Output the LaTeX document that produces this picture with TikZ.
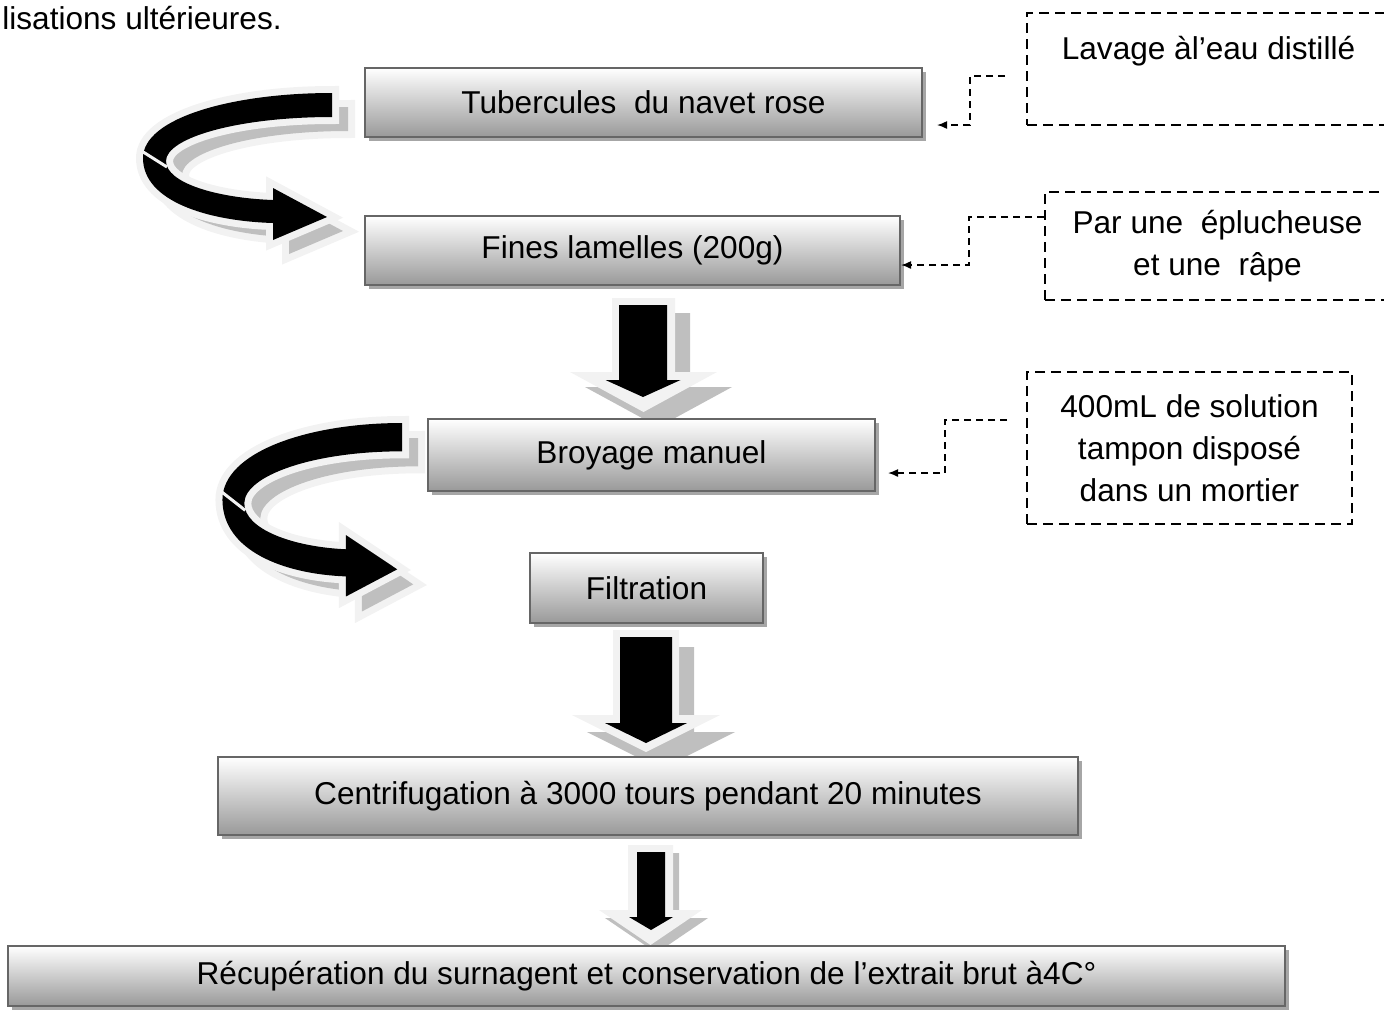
\documentclass[tikz,border=0pt]{standalone}
\usepackage{fontspec}
\setmainfont{Liberation Sans}
\usetikzlibrary{arrows.meta}
\usetikzlibrary{shadows}

% fleche droite : style, x, demi-largeur, haut, base tete, demi-tete, pointe
\newcommand\grosfleche[7]{%
  \fill[#1] (#2-#3,#4) -- (#2+#3,#4) -- (#2+#3,#5) -- (#2+#6,#5) -- (#2,#7)
    -- (#2-#6,#5) -- (#2-#3,#5) -- cycle;}

% fleche courbe : options du scope, couleur
\newcommand\virage[2]{%
  \begin{scope}[#1]
    \fill[#2, preaction={draw=black!5, line width=7pt}]
      (0,0) .. controls (-100,0) and (-189,25) .. (-189,65)
      .. controls (-189,108) and (-125,128) .. (-59,130)
      -- (-59,147) -- (-5,124) -- (-59,95) -- (-59,107)
      .. controls (-115,105) and (-166,90) .. (-166,68)
      .. controls (-166,45) and (-95,24) .. (0,24) -- cycle;
    \draw[black!5, line width=1.5pt] (-192,57) -- (-165,74);
  \end{scope}}

\begin{document}
\begin{tikzpicture}[x=0.5pt, y=-0.5pt,
    etape/.style={draw=black!60, line width=1pt, top color=white, bottom color=black!40,
      drop shadow={shadow xshift=2pt, shadow yshift=-2pt, fill=black!35, opacity=1},
      font=\fontsize{15.8}{21}\selectfont, inner sep=0pt},
    note/.style={draw, line width=1pt, dash pattern=on 5pt off 3pt, align=center,
      font=\fontsize{15.8}{21}\selectfont, inner sep=0pt},
    lien/.style={line width=0.75pt, dash pattern=on 3.5pt off 2.5pt,
      -{Latex[length=5pt,width=4pt]}}]
  \useasboundingbox (0,0) rectangle (1384,1009);
  \clip (0,0) rectangle (1384,1009);

  \node[anchor=base west, inner sep=0pt, font=\fontsize{15.8}{21}\selectfont]
    (suite) at (2,29) {lisations ultérieures.};

  % fleches courbes
  \virage{shift={(348,107)}}{black!25}
  \virage{shift={(332,93)}}{black}
  \virage{shift={(418,438)}, xscale=0.95, yscale=1.18}{black!25}
  \virage{shift={(402,423)}, xscale=0.95, yscale=1.18}{black}

  % fleches droites
  \grosfleche{black!25, shift={(15,15)}}{643.5}{31.5}{298}{372}{73.5}{412}
  \grosfleche{black!5}{643.5}{31.5}{298}{372}{73.5}{412}
  \grosfleche{black}{643}{24}{305}{380}{37.5}{397}

  \grosfleche{black!25, shift={(15,17)}}{646}{33}{630}{715}{74}{752}
  \grosfleche{black!5}{646}{33}{630}{715}{74}{752}
  \grosfleche{black}{646}{26}{637}{723}{41}{743}

  \grosfleche{black!25, shift={(6,8)}}{650.5}{22.5}{845}{910}{51.5}{945}
  \grosfleche{black!5}{650.5}{22.5}{845}{910}{51.5}{945}
  \grosfleche{black}{651}{14}{852}{917}{22}{930}

  % etapes
  \node[etape, minimum width=278.5pt, minimum height=34.5pt] (tubercules) at (643.5,102.5)
    {Tubercules\ \ du navet rose};
  \node[etape, minimum width=267.5pt, minimum height=34.5pt] (lamelles) at (632.5,250.5)
    {Fines lamelles (200g)};
  \node[etape, minimum width=223.5pt, minimum height=36pt] (broyage) at (651.5,455)
    {Broyage manuel};
  \node[etape, minimum width=116.5pt, minimum height=35pt] (filtration) at (646.5,588)
    {Filtration};
  \node[etape, minimum width=430pt, minimum height=39pt] (centrif) at (648,796)
    {Centrifugation à 3000 tours pendant 20 minutes};
  \node[etape, minimum width=638.5pt, minimum height=30pt] (recup) at (646.5,976)
    {Récupération du surnagent et conservation de l’extrait brut à4C°};

  % remarques
  \node[note, minimum width=181.5pt, minimum height=56pt] (lavage) at (1208.5,69)
    {Lavage àl’eau distillé\\ ~};
  \node[note, minimum width=172.5pt, minimum height=54pt] (eplucheuse) at (1217.5,246)
    {Par une\ \ éplucheuse\\ et une\ \ râpe};
  \node[note, minimum width=162.5pt, minimum height=76pt] (tampon) at (1189.5,448)
    {400mL de solution\\ tampon disposé\\ dans un mortier};

  \coordinate (la) at (1005,76);
  \coordinate (lb) at (tubercules.east |- 0,125);
  \coordinate (pa) at (eplucheuse.west |- 0,217);
  \coordinate (pb) at (lamelles.east |- 0,265);
  \coordinate (ta) at (1007,420);
  \coordinate (tb) at (broyage.east |- 0,473);

  \draw[lien] (la) -- ++(-35,0) |- ([xshift=7pt]lb);
  \draw[lien] (pa) -- ++(-75,0) |- (pb);
  \draw[lien] (ta) -- ++(-62,0) |- ([xshift=6pt]tb);
\end{tikzpicture}
\end{document}
